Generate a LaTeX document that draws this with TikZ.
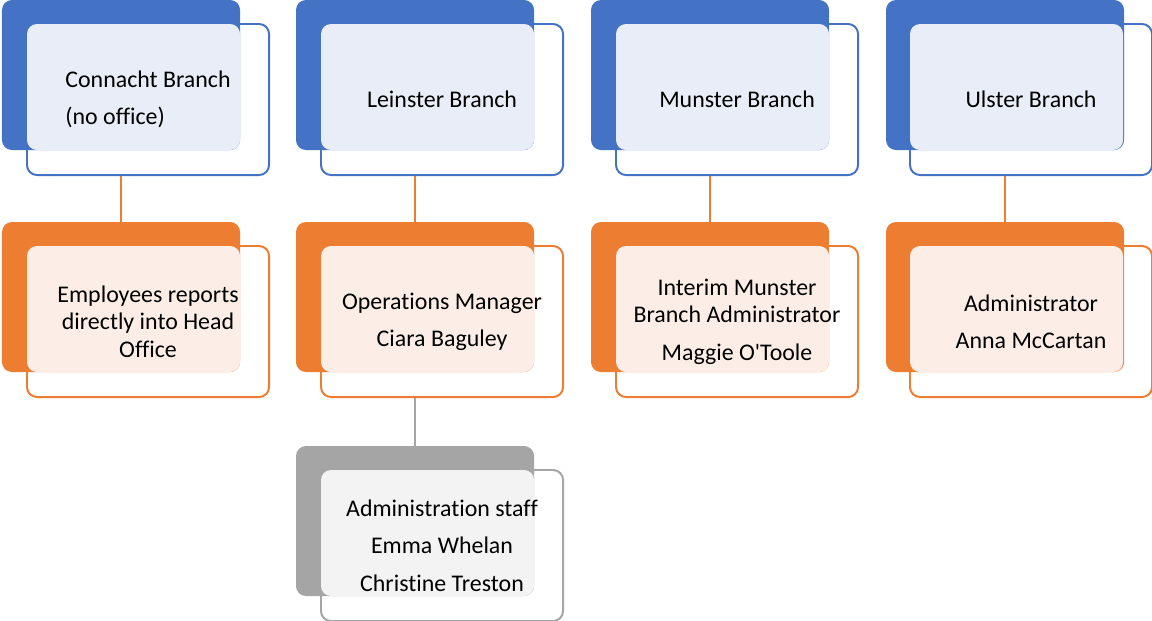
\documentclass[tikz,border=0pt]{standalone}
\usepackage{fontspec}
\setmainfont{Carlito}[Ligatures={NoCommon}]
\usetikzlibrary{backgrounds}

\begin{document}
\begin{tikzpicture}[x=0.025cm, y=-0.025cm,
  every node/.style={inner sep=0pt, outer sep=0pt},
  back/.style={anchor=north west, rounded corners=0.25cm, minimum width=5.95cm, minimum height=3.75cm},
  front/.style={anchor=north west, rounded corners=0.25cm, minimum width=6.05cm, minimum height=3.775cm, fill=white, line width=1.4pt},
  light/.style={anchor=north west, rounded corners=0.25cm, minimum width=5.325cm, minimum height=3.15cm},
  txt/.style={align=center, font=\fontsize{17}{19.5}\selectfont}]
  \definecolor{azulFuerte}{HTML}{4472C4}
  \definecolor{azulClaro}{HTML}{E9EDF7}
  \definecolor{naranjaFuerte}{HTML}{ED7D31}
  \definecolor{naranjaClaro}{HTML}{FCEEE7}
  \definecolor{grisFuerte}{HTML}{A5A5A5}
  \definecolor{grisClaro}{HTML}{F3F3F3}

  \useasboundingbox (0,0) rectangle (1152,620);

  % branches
  \node[front, draw=azulFuerte] (connachtF) at (27,24) {};
  \node[back, fill=azulFuerte]  (connachtB) at (2,0) {};
  \node[light, fill=azulClaro]  (connachtL) at (27,24) {};
  \node[txt, align=left] (connacht) at (connachtF.center) {Connacht Branch\\[7pt](no office)};

  \node[front, draw=azulFuerte] (leinsterF) at (321,24) {};
  \node[back, fill=azulFuerte]  (leinsterB) at (296,0) {};
  \node[light, fill=azulClaro]  (leinsterL) at (321,24) {};
  \node[txt] (leinster) at (leinsterF.center) {Leinster Branch};

  \node[front, draw=azulFuerte] (munsterF) at (616,24) {};
  \node[back, fill=azulFuerte]  (munsterB) at (591,0) {};
  \node[light, fill=azulClaro]  (munsterL) at (616,24) {};
  \node[txt] (munster) at (munsterF.center) {Munster Branch};

  \node[front, draw=azulFuerte] (ulsterF) at (910,24) {};
  \node[back, fill=azulFuerte]  (ulsterB) at (886,0) {};
  \node[light, fill=azulClaro]  (ulsterL) at (910,24) {};
  \node[txt] (ulster) at (ulsterF.center) {Ulster Branch};

  % staff
  \node[front, draw=naranjaFuerte] (headF) at (27,246) {};
  \node[back, fill=naranjaFuerte]  (headB) at (2,222) {};
  \node[light, fill=naranjaClaro]  (headL) at (27,246) {};
  \node[txt] (head) at (headF.center) {Employees reports\\directly into Head\\Office};

  \node[front, draw=naranjaFuerte] (managerF) at (321,246) {};
  \node[back, fill=naranjaFuerte]  (managerB) at (296,222) {};
  \node[light, fill=naranjaClaro]  (managerL) at (321,246) {};
  \node[txt] (manager) at (managerF.center) {Operations Manager\\[7pt]Ciara Baguley};

  \node[front, draw=naranjaFuerte] (interimF) at (616,246) {};
  \node[back, fill=naranjaFuerte]  (interimB) at (591,222) {};
  \node[light, fill=naranjaClaro]  (interimL) at (616,246) {};
  \node[txt] (interim) at (interimF.center) {Interim Munster\\Branch Administrator\\[7pt]Maggie O\textquotesingle Toole};

  \node[front, draw=naranjaFuerte] (adminF) at (910,246) {};
  \node[back, fill=naranjaFuerte]  (adminB) at (886,222) {};
  \node[light, fill=naranjaClaro]  (adminL) at (910,246) {};
  \node[txt] (admin) at (adminF.center) {Administrator\\[7pt]Anna McCartan};

  \node[front, draw=grisFuerte] (staffF) at (321,470) {};
  \node[back, fill=grisFuerte]  (staffB) at (296,446) {};
  \node[light, fill=grisClaro]  (staffL) at (321,470) {};
  \node[txt] (staff) at (staffF.center) {Administration staff\\[7pt]Emma Whelan\\[7pt]Christine Treston};

  % connectors behind the boxes
  \begin{pgfonlayer}{background}
    \draw[naranjaFuerte, line width=1.4pt] (connachtB.south) -- (headB.north);
    \draw[naranjaFuerte, line width=1.4pt] (leinsterB.south) -- (managerB.north);
    \draw[naranjaFuerte, line width=1.4pt] (munsterB.south) -- (interimB.north);
    \draw[naranjaFuerte, line width=1.4pt] (ulsterB.south) -- (adminB.north);
    \draw[grisFuerte, line width=1.4pt] (managerB.south) -- (staffB.north);
  \end{pgfonlayer}
\end{tikzpicture}
\end{document}
